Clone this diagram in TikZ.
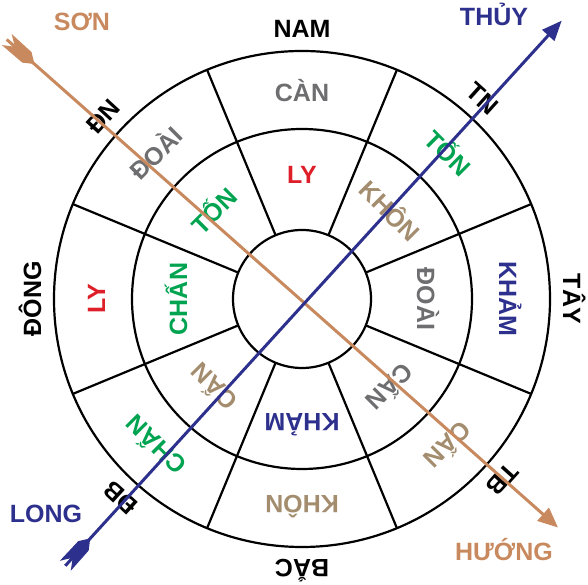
\documentclass[tikz,border=0pt]{standalone}
\usepackage{fontspec}
\setmainfont{Liberation Sans}
\usetikzlibrary{arrows.meta}

\definecolor{son}{RGB}{201,137,94}
\definecolor{thuy}{RGB}{45,48,140}
\definecolor{moc}{RGB}{0,163,80}
\definecolor{hoa}{RGB}{222,30,40}
\definecolor{xam}{RGB}{110,110,112}
\definecolor{kaki}{RGB}{163,141,110}

\tikzset{
	ring/.style={line width=2.2pt},
	lbl/.style={font=\bfseries\fontsize{25}{30}\selectfont,inner sep=0pt,text height=18pt,text depth=0pt},
	sonline/.style={son,line width=3pt},
	thuyline/.style={thuy,line width=3pt}
}

\begin{document}
\begin{tikzpicture}[x=1pt,y=1pt]
	\useasboundingbox (0,0) rectangle (588,585);
	\coordinate (c) at (302,286);
	
	\draw[ring] (c) circle (248pt);
	\draw[ring] (c) circle (170pt);
	\draw[ring] (c) circle (69pt);
	\draw[ring] (c) ++(22.5:69pt) -- ++(22.5:179pt);
	\draw[ring] (c) ++(67.5:69pt) -- ++(67.5:179pt);
	\draw[ring] (c) ++(112.5:69pt) -- ++(112.5:179pt);
	\draw[ring] (c) ++(157.5:69pt) -- ++(157.5:179pt);
	\draw[ring] (c) ++(202.5:69pt) -- ++(202.5:179pt);
	\draw[ring] (c) ++(247.5:69pt) -- ++(247.5:179pt);
	\draw[ring] (c) ++(292.5:69pt) -- ++(292.5:179pt);
	\draw[ring] (c) ++(337.5:69pt) -- ++(337.5:179pt);
	
	\begin{scope}[shift={(c)}]
	\node[lbl] (nam) at (90:270pt) {NAM};
	\node[lbl,rotate=47.5] (dn) at (137.5:270pt) {ĐN};
	\node[lbl,rotate=90] (dong) at (180:270pt) {ĐÔNG};
	\node[lbl,rotate=137.6] (db) at (227.6:270pt) {ĐB};
	\node[lbl,rotate=180] (bac) at (270:270pt) {BẮC};
	\node[lbl,rotate=228] (tb) at (318:270pt) {TB};
	\node[lbl,rotate=-90] (tay) at (0:270pt) {TÂY};
	\node[lbl,rotate=-42] (tn) at (48:270pt) {TN};
	
	\node[lbl,xam] (o-can) at (90:206pt) {CÀN};
	\node[lbl,xam,rotate=45] (o-doai) at (135:206pt) {ĐOÀI};
	\node[lbl,hoa,rotate=90] (o-ly) at (180:206pt) {LY};
	\node[lbl,moc,rotate=135] (o-chan) at (225:206pt) {CHẤN};
	\node[lbl,kaki,rotate=180] (o-khon) at (270:206pt) {KHÔN};
	\node[lbl,kaki,rotate=225] (o-cann) at (315:206pt) {CẤN};
	\node[lbl,thuy,rotate=-90] (o-kham) at (0:206pt) {KHẢM};
	\node[lbl,moc,rotate=-45] (o-ton) at (45:206pt) {TỐN};
	
	\node[lbl,hoa] (i-ly) at (90:124pt) {LY};
	\node[lbl,moc,rotate=45] (i-ton) at (135:124pt) {TỐN};
	\node[lbl,moc,rotate=90] (i-chan) at (180:124pt) {CHẤN};
	\node[lbl,kaki,rotate=135] (i-cann) at (225:124pt) {CẤN};
	\node[lbl,thuy,rotate=180] (i-kham) at (270:124pt) {KHẢM};
	\node[lbl,xam,rotate=225] (i-cann2) at (315:124pt) {CẤN};
	\node[lbl,xam,rotate=-90] (i-doai) at (0:124pt) {ĐOÀI};
	\node[lbl,kaki,rotate=-45] (i-khon) at (45:124pt) {KHÔN};
	\end{scope}
	
	\coordinate (sonback) at (6.7,545.5);
	\coordinate (huongtip) at (558,57.5);
	\coordinate (longback) at (65.3,19.2);
	\coordinate (thuytip) at (561.7,564.3);
	
	\draw[sonline,-{Triangle[length=20pt,width=17pt]}] (sonback) -- (huongtip);
	\begin{scope}[shift={(sonback)},rotate=-41.5]
	\fill[son] (0,7.4) -- (11,0) -- (0,-7.4) -- (27,-7) -- (37,0) -- (27,7) -- cycle;
	\end{scope}
	
	\draw[thuyline,-{Triangle[length=20pt,width=16pt]}] (longback) -- (thuytip);
	\begin{scope}[shift={(longback)},rotate=47.7]
	\fill[thuy] (0,7.4) -- (11,0) -- (0,-7.4) -- (27,-7) -- (37,0) -- (27,7) -- cycle;
	\end{scope}
	
	\node[lbl,son] (sonlbl) at (82,563) {SƠN};
	\node[lbl,thuy] (thuylbl) at (494,568.7) {THỦY};
	\node[lbl,thuy] (longlbl) at (46,71.5) {LONG};
	\node[lbl,son] (huonglbl) at (504,33.3) {HƯỚNG};
	
\end{tikzpicture}
\end{document}
